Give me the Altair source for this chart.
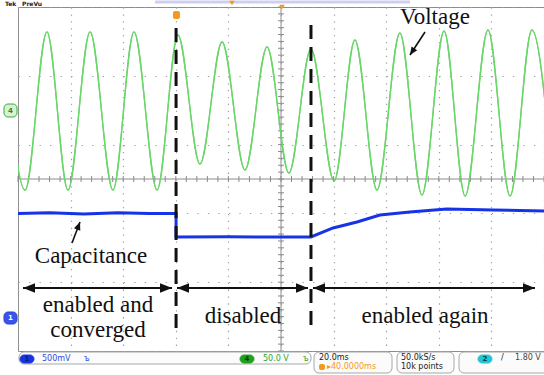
import altair as alt
import pandas as pd

# ---------------- scope settings (from the status bar) ----------------
T_SPAN_MS = 200.0          # 10 div x 20.0 ms/div
N_DIV_Y = 10
CH4_V_PER_DIV = 50.0       # green trace: line voltage
CH4_GND_DIV = 7.0          # ground marker "4" (divisions from bottom)
CH1_V_PER_DIV = 0.5        # blue trace: capacitance signal
CH1_GND_DIV = 1.0          # ground marker "1"

# ---------------- green trace: successive extrema (ms, V) ----------------
volt_t = [-5.6, 2.7, 11.0, 19.0, 27.4, 36.1, 44.1, 52.9, 60.8, 69.2, 77.6, 86.3,
          94.7, 103.0, 111.4, 120.2, 128.1, 136.5, 145.2, 153.6, 162.0, 170.0,
          178.7, 187.1, 195.4, 203.7]
volt_v = [113.7, -116.0, 113.7, -116.0, 113.7, -116.0, 113.7, -116.0, 109.3, -78.2,
          99.1, -86.9, 91.9, -91.3, 89.0, -102.9, 102.0, -116.0, 112.2, -123.3,
          115.1, -124.7, 116.6, -124.7, 116.6, -124.7]

# ---------------- blue trace (ms, V) ----------------
cap_t = [0, 12, 25, 38, 50, 60.1, 60.1, 80, 100, 111.4, 119.8, 128.9, 137.6,
         149.0, 163.0, 180.6, 200]
cap_v = [1.50, 1.51, 1.49, 1.51, 1.50, 1.50, 1.157, 1.16, 1.157, 1.157, 1.288,
         1.375, 1.477, 1.52, 1.564, 1.55, 1.535]

# ---------------- events and labels ----------------
event_t = [60.1, 111.4]
phase_labels = ["disabled", "enabled again"]

# ---------------- layout helpers (pixel -> data units) ----------------
X0, Y0, W, H = 18, 7, 526, 344


def tx(px):
    return (px - X0) / W * T_SPAN_MS


def dy(py):
    return (Y0 + H - py) / H * N_DIV_Y


xs = alt.Scale(domain=[0, T_SPAN_MS], nice=False, zero=False)
ys = alt.Scale(domain=[0, N_DIV_Y], nice=False, zero=False)


def X(f, **kw):
    return alt.X(f, type="quantitative", scale=xs, title=None, **kw)


def Y(f, **kw):
    return alt.Y(f, type="quantitative", scale=ys, title=None, **kw)


def X2(f):
    return alt.X2(f)


def Y2(f):
    return alt.Y2(f)


xaxis = alt.Axis(values=[i * 20 for i in range(11)], grid=True, gridColor="#a0a0a0",
                 gridDash=[1.3, 5.58], gridWidth=1.2, labels=False, ticks=False,
                 domain=False)
yaxis = alt.Axis(values=list(range(11)), grid=True, gridColor="#a0a0a0",
                 gridDash=[1.3, 9.22], gridWidth=1.2, labels=False, ticks=False,
                 domain=False)

layers = []

# ---- green trace (carries the graticule) ----
green_df = pd.DataFrame({"t": volt_t, "v": volt_v})
layers.append(
    alt.Chart(green_df)
    .transform_calculate(d=f"datum.v / {CH4_V_PER_DIV} + {CH4_GND_DIV}")
    .mark_line(interpolate="monotone", color="#6ad66a", strokeWidth=1.3, clip=True)
    .encode(x=X("t", axis=xaxis), y=Y("d", axis=yaxis))
)

# ---- centre cross-hair with minor ticks ----
cross = pd.DataFrame({"t1": [T_SPAN_MS / 2, 0], "t2": [T_SPAN_MS / 2, T_SPAN_MS],
                      "d1": [0, N_DIV_Y / 2], "d2": [N_DIV_Y, N_DIV_Y / 2]})
layers.append(
    alt.Chart(cross).mark_rule(color="#8c8c8c", strokeWidth=1)
    .encode(x=X("t1"), x2=X2("t2"), y=Y("d1"), y2=Y2("d2"))
)
vt = pd.DataFrame({"t": [T_SPAN_MS / 2] * 51, "d": [i * 0.2 for i in range(51)]})
layers.append(
    alt.Chart(vt).mark_point(shape="M-1,0L1,0", size=36, filled=False,
                             color="#8c8c8c", strokeWidth=1, opacity=1)
    .encode(x=X("t"), y=Y("d"))
)
ht = pd.DataFrame({"t": [i * 4 for i in range(51)], "d": [N_DIV_Y / 2] * 51})
layers.append(
    alt.Chart(ht).mark_point(shape="M0,-1L0,1", size=36, filled=False,
                             color="#8c8c8c", strokeWidth=1, opacity=1)
    .encode(x=X("t"), y=Y("d"))
)

# re-draw green above cross-hair
layers.append(layers[0])

# ---- blue trace ----
blue_df = pd.DataFrame({"t": cap_t, "v": cap_v, "i": list(range(len(cap_t)))})
layers.append(
    alt.Chart(blue_df)
    .transform_calculate(d=f"datum.v / {CH1_V_PER_DIV} + {CH1_GND_DIV}")
    .mark_line(color="#1733e6", strokeWidth=3, clip=True)
    .encode(x=X("t"), y=Y("d"), order=alt.Order("i:Q"))
)

# ---- dashed event lines ----
ev = pd.DataFrame({"t": event_t, "top": [dy(28), dy(25)], "bot": [dy(330), dy(330)]})
layers.append(
    alt.Chart(ev).mark_rule(color="#111111", strokeWidth=3, strokeDash=[14, 8])
    .encode(x=X("t"), y=Y("top"), y2=Y2("bot"))
)

# ---- phase arrows ----
ay = dy(288)
segs = pd.DataFrame({"a": [tx(23), tx(177), tx(313)], "b": [tx(172), tx(308), tx(535)],
                     "d": [ay] * 3})
layers.append(
    alt.Chart(segs).mark_rule(color="#111111", strokeWidth=2)
    .encode(x=X("a"), x2=X2("b"), y=Y("d"))
)
heads_r = pd.DataFrame({"t": [tx(172), tx(308), tx(535)], "d": [ay] * 3})
heads_l = pd.DataFrame({"t": [tx(23), tx(177), tx(313)], "d": [ay] * 3})
layers.append(
    alt.Chart(heads_r).mark_point(shape="M0,0L-2,-0.8L-2,0.8Z", size=144, filled=True,
                                  color="#111111", opacity=1)
    .encode(x=X("t"), y=Y("d"))
)
layers.append(
    alt.Chart(heads_l).mark_point(shape="M0,0L2,-0.8L2,0.8Z", size=144, filled=True,
                                  color="#111111", opacity=1)
    .encode(x=X("t"), y=Y("d"))
)

# ---- pointer arrows ----
ptr = pd.DataFrame({"t1": [tx(72), tx(425)], "d1": [dy(243), dy(32)],
                    "t2": [tx(80), tx(410)], "d2": [dy(222), dy(55)],
                    "ang": [291, 123]})
layers.append(
    alt.Chart(ptr).mark_rule(color="#111111", strokeWidth=1.6)
    .encode(x=X("t1"), x2=X2("t2"), y=Y("d1"), y2=Y2("d2"))
)
layers.append(
    alt.Chart(ptr).mark_point(shape="M0,0L-2,-0.85L-2,0.85Z", size=64, filled=True,
                              color="#111111", opacity=1)
    .encode(x=X("t2"), y=Y("d2"), angle=alt.Angle("ang:Q", scale=None))
)

# ---- text labels ----
labels = pd.DataFrame({
    "txt": ["Voltage", "Capacitance", "enabled and", "converged"] + phase_labels,
    "t": [tx(435), tx(91), tx(98), tx(98), tx(243), tx(425)],
    "d": [dy(24), dy(263), dy(312), dy(337), dy(323), dy(323)],
})
layers.append(
    alt.Chart(labels).mark_text(font="Liberation Serif", fontSize=23, color="#111111",
                                align="center", baseline="alphabetic")
    .encode(x=X("t"), y=Y("d"), text="txt:N")
)

# ---- status bar ----
boxes = pd.DataFrame({"a": [tx(19), tx(314), tx(397), tx(459)],
                      "b": [tx(311), tx(392), tx(454), tx(560)],
                      "d1": [dy(352), dy(352), dy(352), dy(352)],
                      "d2": [dy(364), dy(373), dy(373), dy(373)]})
layers.append(
    alt.Chart(boxes).mark_rect(fill="#fbfbfb", stroke="#a8a8a8", strokeWidth=1,
                               cornerRadius=5)
    .encode(x=X("a"), x2=X2("b"), y=Y("d1"), y2=Y2("d2"))
)
ovals = pd.DataFrame({"a": [tx(20), tx(240), tx(478), tx(4), tx(4)],
                      "b": [tx(34), tx(254), tx(492), tx(17), tx(17)],
                      "d1": [dy(355), dy(355), dy(355), dy(104), dy(312)],
                      "d2": [dy(363), dy(363), dy(363), dy(117), dy(324)],
                      "c": ["#1535e0", "#1fa01f", "#22c5d5", "#d6f2d6", "#3a55e6"],
                      "s": ["#1535e0", "#1fa01f", "#22c5d5", "#3aa83a", "#2340d8"]})
layers.append(
    alt.Chart(ovals).mark_rect(cornerRadius=4, strokeWidth=1)
    .encode(x=X("a"), x2=X2("b"), y=Y("d1"), y2=Y2("d2"),
            fill=alt.Fill("c:N", scale=None), stroke=alt.Stroke("s:N", scale=None))
)
oval_txt = pd.DataFrame({"txt": ["1", "4", "2", "4", "1"],
                         "t": [tx(27), tx(247), tx(485), tx(10.5), tx(10.5)],
                         "d": [dy(359), dy(359), dy(359), dy(110.5), dy(318)],
                         "c": ["#0a1a80", "#0a400a", "#0a3a50", "#2a8a2a", "#ffffff"]})
layers.append(
    alt.Chart(oval_txt).mark_text(font="DejaVu Sans", fontSize=7, fontWeight="bold",
                                  align="center", baseline="middle")
    .encode(x=X("t"), y=Y("d"), text="txt:N", color=alt.Color("c:N", scale=None))
)
bar_txt = pd.DataFrame({
    "txt": ["500mV", "ъ", "50.0 V", "ъ", "20.0ms", "▸40.0000ms", "50.0kS/s",
            "10k points", "/", "1.80 V"],
    "t": [tx(42), tx(84), tx(263), tx(303), tx(319), tx(327), tx(401), tx(401),
          tx(501), tx(515)],
    "d": [dy(359), dy(359), dy(359), dy(359), dy(358), dy(367), dy(358), dy(367),
          dy(358), dy(358)],
    "c": ["#2f4fe0", "#2f4fe0", "#2ea82e", "#2ea82e", "#222222", "#f39a1e",
          "#222222", "#222222", "#222222", "#444444"],
})
layers.append(
    alt.Chart(bar_txt).mark_text(font="DejaVu Sans", fontSize=8, align="left",
                                 baseline="middle")
    .encode(x=X("t"), y=Y("d"), text="txt:N", color=alt.Color("c:N", scale=None))
)
top_txt = pd.DataFrame({"txt": ["Tek", "PreVu"], "t": [tx(5), tx(22)],
                        "d": [dy(0.5), dy(0.5)]})
layers.append(
    alt.Chart(top_txt).mark_text(font="DejaVu Sans", fontSize=6, fontWeight="bold",
                                 align="left", baseline="top", color="#222222")
    .encode(x=X("t"), y=Y("d"), text="txt:N")
)
trig_box = pd.DataFrame({"a": [tx(319), tx(173)], "b": [tx(325), tx(180)],
                         "d1": [dy(364), dy(11)], "d2": [dy(370), dy(19)]})
layers.append(
    alt.Chart(trig_box).mark_rect(fill="#f39a1e", cornerRadius=2)
    .encode(x=X("a"), x2=X2("b"), y=Y("d1"), y2=Y2("d2"))
)

# ---- top record bar and markers ----
topbar = pd.DataFrame({"a": [tx(155)], "b": [tx(410)], "d": [dy(2)]})
layers.append(
    alt.Chart(topbar).mark_rule(color="#cfcff2", strokeWidth=3)
    .encode(x=X("a"), x2=X2("b"), y=Y("d"))
)
tri = pd.DataFrame({"t": [tx(282), tx(232)], "d": [dy(7), dy(3)]})
layers.append(
    alt.Chart(tri).mark_point(shape="triangle-down", size=30, filled=True,
                              color="#f39a1e", opacity=1)
    .encode(x=X("t"), y=Y("d"))
)

chart = (
    alt.layer(*layers)
    .properties(width=W, height=H,
                padding={"left": X0, "top": Y0, "right": 0, "bottom": 375 - Y0 - H},
                autosize=alt.AutoSizeParams(type="none"), background="white")
    .configure_view(stroke="#8c8c8c", strokeWidth=1)
)

chart.save("out.html", embed_options={"renderer": "svg", "actions": False})
